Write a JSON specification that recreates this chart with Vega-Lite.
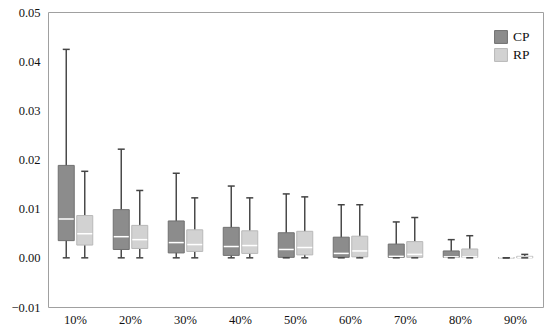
{
  "$schema": "https://vega.github.io/schema/vega-lite/v6.json",
  "width": 495,
  "height": 295,
  "autosize": {"type": "none"},
  "padding": {"left": 48, "top": 12, "right": 7, "bottom": 21},
  "background": "white",
  "config": {
    "view": {"stroke": "#a0a0a0", "strokeWidth": 1},
    "font": "Liberation Serif",
    "axis": {"domain": false, "ticks": false, "grid": false, "labelFont": "Liberation Serif", "labelFontSize": 12.5, "labelColor": "#111", "title": null}
  },
  "data": {
    "values": [
      {"cat": "10%", "series": "CP", "min": 0, "q1": 0.0035, "median": 0.0079, "q3": 0.0188, "max": 0.0424},
      {"cat": "10%", "series": "RP", "min": 0, "q1": 0.0026, "median": 0.0049, "q3": 0.0086, "max": 0.0176},
      {"cat": "20%", "series": "CP", "min": 0, "q1": 0.0017, "median": 0.0043, "q3": 0.0098, "max": 0.0221},
      {"cat": "20%", "series": "RP", "min": 0, "q1": 0.0019, "median": 0.0037, "q3": 0.0066, "max": 0.0137},
      {"cat": "30%", "series": "CP", "min": 0, "q1": 0.001, "median": 0.0031, "q3": 0.0075, "max": 0.0172},
      {"cat": "30%", "series": "RP", "min": 0, "q1": 0.0013, "median": 0.0027, "q3": 0.0057, "max": 0.0122},
      {"cat": "40%", "series": "CP", "min": 0, "q1": 0.0005, "median": 0.0023, "q3": 0.0062, "max": 0.0146},
      {"cat": "40%", "series": "RP", "min": 0, "q1": 0.0009, "median": 0.0025, "q3": 0.0055, "max": 0.0122},
      {"cat": "50%", "series": "CP", "min": 0, "q1": 0.0001, "median": 0.0017, "q3": 0.0051, "max": 0.013},
      {"cat": "50%", "series": "RP", "min": 0, "q1": 0.0006, "median": 0.0021, "q3": 0.0054, "max": 0.0124},
      {"cat": "60%", "series": "CP", "min": 0, "q1": 0.0001, "median": 0.0009, "q3": 0.0042, "max": 0.0108},
      {"cat": "60%", "series": "RP", "min": 0, "q1": 0.0002, "median": 0.0014, "q3": 0.0044, "max": 0.0108},
      {"cat": "70%", "series": "CP", "min": 0, "q1": 0.0001, "median": 0.0003, "q3": 0.0028, "max": 0.0073},
      {"cat": "70%", "series": "RP", "min": 0, "q1": 0.0001, "median": 0.0007, "q3": 0.0033, "max": 0.0082},
      {"cat": "80%", "series": "CP", "min": 0, "q1": 0.0001, "median": 0.0002, "q3": 0.0014, "max": 0.0037},
      {"cat": "80%", "series": "RP", "min": 0, "q1": 0.0001, "median": 0.0002, "q3": 0.0018, "max": 0.0045},
      {"cat": "90%", "series": "CP", "min": 0, "q1": 0, "median": 0, "q3": 0, "max": 0},
      {"cat": "90%", "series": "RP", "min": 0, "q1": 0, "median": 0.0001, "q3": 0.0003, "max": 0.0007}
    ]
  },
  "encoding": {
    "x": {"field": "cat", "type": "nominal", "sort": null, "scale": {"paddingInner": 0, "paddingOuter": 0}, "axis": {"labelAngle": 0, "labelPadding": 6}},
    "xOffset": {"field": "series", "type": "nominal", "scale": {"domain": ["CP", "RP"], "paddingInner": 0, "paddingOuter": 0.486}}
  },
  "layer": [
    {
      "mark": {"type": "rule", "color": "#4a4a4a", "strokeWidth": 1.5},
      "encoding": {
        "y": {"field": "min", "type": "quantitative", "scale": {"domain": [-0.01, 0.05], "nice": false, "zero": false}, "axis": {"values": [-0.01, 0, 0.01, 0.02, 0.03, 0.04, 0.05], "format": ".2f", "labelPadding": 8}},
        "y2": {"field": "max"}
      }
    },
    {
      "mark": {"type": "bar", "width": 16, "strokeWidth": 1},
      "encoding": {
        "y": {"field": "q1", "type": "quantitative"},
        "y2": {"field": "q3"},
        "fill": {"field": "series", "type": "nominal", "scale": {"domain": ["CP", "RP"], "range": ["#8c8c8c", "#d2d2d2"]},
          "legend": {"orient": "none", "legendX": 446, "legendY": 18, "title": null, "symbolType": "square", "symbolSize": 165, "symbolStrokeColor": "#9a9a9a", "symbolStrokeWidth": 1, "labelFont": "Liberation Serif", "labelFontSize": 13.5, "labelColor": "#111", "rowPadding": 0, "labelOffset": 5}},
        "stroke": {"field": "series", "type": "nominal", "scale": {"domain": ["CP", "RP"], "range": ["#707070", "#b8b8b8"]}, "legend": null}
      }
    },
    {
      "mark": {"type": "tick", "color": "#ffffff", "size": 15, "thickness": 1.5, "opacity": 1},
      "encoding": {"y": {"field": "median", "type": "quantitative"}}
    },
    {
      "mark": {"type": "tick", "color": "#444444", "size": 7, "thickness": 1.5, "opacity": 1},
      "encoding": {"y": {"field": "max", "type": "quantitative"}}
    },
    {
      "mark": {"type": "tick", "color": "#444444", "size": 7, "thickness": 1.5, "opacity": 1},
      "encoding": {"y": {"field": "min", "type": "quantitative"}}
    }
  ]
}
